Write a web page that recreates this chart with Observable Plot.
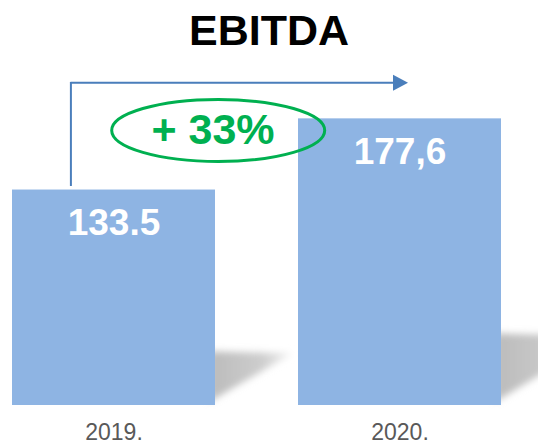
<!DOCTYPE html>
<html><head><meta charset="utf-8">
<script src="https://cdn.jsdelivr.net/npm/d3@7"></script>
<script src="https://cdn.jsdelivr.net/npm/@observablehq/plot@0.6"></script>
<style>
body{margin:0;background:#fff;width:538px;height:443px;overflow:hidden;font-family:"Liberation Sans",Arial,sans-serif}
#title{height:60px;line-height:60px;text-align:center;font-size:43px;font-weight:bold;color:#000}
#chart svg{display:block}
</style></head><body>
<div id="title"></div>
<div id="chart"></div>
<script>
const title = "EBITDA";
const years = ["2019.", "2020."];
const values = [133.5, 177.6];
const valueLabels = ["133.5", "177,6"];
const growthLabel = "+ 33%";

const data = years.map((year, i) => ({year, value: values[i], label: valueLabels[i]}));

const barColor = "#8eb4e3";
const arrowColor = "#4a7ebb";
const green = "#00b050";

// annotation anchors in data units
const yTop = 200;
const arrowStart = values[0] + 2.2;
const ellipseY = 170.4;
const growthY = 162.3;

const ellipseSymbol = {draw(ctx) {
  const rx = 106.5, ry = 31, k = 0.5523;
  ctx.moveTo(rx, 0);
  ctx.bezierCurveTo(rx, ry * k, rx * k, ry, 0, ry);
  ctx.bezierCurveTo(-rx * k, ry, -rx, ry * k, -rx, 0);
  ctx.bezierCurveTo(-rx, -ry * k, -rx * k, -ry, 0, -ry);
  ctx.bezierCurveTo(rx * k, -ry, rx, -ry * k, rx, 0);
  ctx.closePath();
}};
const headSymbol = {draw(ctx) {
  ctx.moveTo(-7, -8); ctx.lineTo(8, 0); ctx.lineTo(-7, 8); ctx.closePath();
}};

document.getElementById("title").textContent = title;

const plot = Plot.plot({
  width: 538,
  height: 383,
  marginTop: 22.2,
  marginBottom: 38,
  marginLeft: 11,
  marginRight: 36.7,
  style: {fontFamily: '"Liberation Sans", Arial, sans-serif', background: "white", overflow: "visible"},
  x: {domain: years, paddingInner: 0.29, paddingOuter: 0, axis: null},
  y: {domain: [0, yTop], axis: null},
  marks: [
    Plot.barY(data, {x: "year", y: "value", fill: barColor}),
    Plot.text(data, {x: "year", y: "value", text: "label", lineAnchor: "top", dy: 19, fill: "white", fontSize: 37, fontWeight: "bold"}),
    Plot.text(data, {x: "year", frameAnchor: "bottom", lineAnchor: "bottom", dy: 34, text: "year", fill: "#595959", fontSize: 23}),
    Plot.ruleX([years[0]], {y1: arrowStart, y2: yTop, dx: -43.1, stroke: arrowColor, strokeWidth: 2}),
    Plot.arrow([0], {x1: () => years[0], x2: () => years[1], y1: () => yTop, y2: () => yTop, insetStart: -43.1, insetEnd: 5, headLength: 0, stroke: arrowColor, strokeWidth: 2}),
    Plot.dot([0], {x: () => years[1], y: () => yTop, symbol: headSymbol, r: 1, fill: arrowColor, stroke: "none"}),
    Plot.dot([0], {x: () => years[0], y: () => ellipseY, dx: 104.2, symbol: ellipseSymbol, r: 1, fill: "none", stroke: green, strokeWidth: 3}),
    Plot.text([growthLabel], {x: () => years[0], y: () => growthY, dx: 99, text: d => d, lineAnchor: "bottom", fill: green, fontSize: 43, fontWeight: "bold"})
  ]
});
document.getElementById("chart").appendChild(plot);

// perspective shadows behind the bars, placed with the plot's own scales
const xs = plot.scale("x"), ys = plot.scale("y");
const svg = d3.select(plot);
const defs = svg.insert("defs", ":first-child");
defs.append("filter").attr("id", "shadowBlur")
  .attr("x", "-50%").attr("y", "-50%").attr("width", "200%").attr("height", "200%")
  .append("feGaussianBlur").attr("stdDeviation", 3.5);
const g = document.createElementNS("http://www.w3.org/2000/svg", "g");
g.setAttribute("filter", "url(#shadowBlur)");
const barG = plot.querySelector('g[aria-label="bar"]');
plot.insertBefore(g, barG);
data.forEach((d, i) => {
  const R = xs.apply(d.year) + xs.bandwidth;
  const B = ys.apply(0);
  const h = B - ys.apply(d.value);
  const gid = "shadowGrad" + i;
  const grad = defs.append("linearGradient").attr("id", gid).attr("gradientUnits", "userSpaceOnUse")
    .attr("x1", R).attr("y1", 0).attr("x2", R + 0.36 * h).attr("y2", 0);
  grad.append("stop").attr("offset", 0).attr("stop-color", "#bdbdbd");
  grad.append("stop").attr("offset", 0.6).attr("stop-color", "#cdcdcd");
  grad.append("stop").attr("offset", 1).attr("stop-color", "#f4f4f4");
  d3.select(g).append("polygon")
    .attr("points", [[R - 6, B - 0.25 * h], [R + 0.36 * h, B - 0.24 * h], [R - 6, B - 3]].map(p => p.join(",")).join(" "))
    .attr("fill", `url(#${gid})`);
});
</script>
</body></html>
